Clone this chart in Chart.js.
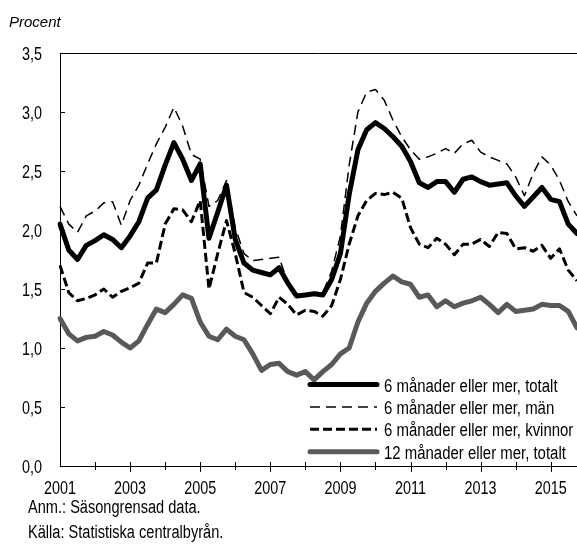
<!DOCTYPE html>
<html>
<head>
<meta charset="utf-8">
<script src="https://cdn.jsdelivr.net/npm/chart.js@4.4.1/dist/chart.umd.min.js"></script>
<style>
  html, body { margin: 0; padding: 0; background: #fff; }
  #wrap { position: relative; width: 577px; height: 544px; overflow: hidden; }
  #chart { position: absolute; left: 0; top: 0; }
  .txt {
    position: absolute; white-space: nowrap; color: #000;
    font-family: 'Liberation Sans', Arial, sans-serif;
    font-size: 18px; line-height: 18px;
    transform: scaleX(0.81); transform-origin: 0 0;
  }
  #unit { left: 9px; top: 14px; font-style: italic; font-size: 15px; line-height: 15px; transform: none; }
</style>
</head>
<body>
<div id="wrap">
  <canvas id="chart" width="577" height="544"></canvas>
  <div class="txt" id="unit">Procent</div>
  <div class="txt" style="left:28px; top:498px;">Anm.: Säsongrensad data.</div>
  <div class="txt" style="left:28px; top:523px;">Källa: Statistiska centralbyrån.</div>
</div>
<script>
// Quarterly data, 2001 K1 - 2015 K4 (percent)
const years = [2001, 2002, 2003, 2004, 2005, 2006, 2007, 2008, 2009, 2010, 2011, 2012, 2013, 2014, 2015];
const quarters = [];
years.forEach(yr => { for (let q = 1; q <= 4; q++) quarters.push(yr + 'K' + q); });

const seriesNames = [
  '6 månader eller mer, totalt',
  '6 månader eller mer, män',
  '6 månader eller mer, kvinnor',
  '12 månader eller mer, totalt'
];

const total6 = [
  2.05, 1.83, 1.75, 1.87, 1.91, 1.96, 1.92, 1.85, 1.95, 2.07,
  2.27, 2.34, 2.55, 2.74, 2.60, 2.42, 2.56, 1.93, 2.15, 2.38,
  1.92, 1.72, 1.66, 1.64, 1.62, 1.68, 1.55, 1.44, 1.45, 1.46,
  1.45, 1.58, 1.80, 2.30, 2.68, 2.85, 2.91, 2.86, 2.79, 2.71,
  2.58, 2.40, 2.36, 2.41, 2.41, 2.32, 2.43, 2.45, 2.41, 2.38,
  2.39, 2.40, 2.29, 2.20, 2.28, 2.36, 2.26, 2.24, 2.05, 1.97
];
const men6 = [
  2.20, 2.05, 1.98, 2.12, 2.16, 2.23, 2.24, 2.04, 2.25, 2.38,
  2.56, 2.73, 2.87, 3.04, 2.88, 2.64, 2.60, 2.20, 2.25, 2.42,
  2.02, 1.80, 1.74, 1.75, 1.76, 1.77, 1.55, 1.45, 1.46, 1.47,
  1.47, 1.65, 1.95, 2.55, 3.00, 3.17, 3.19, 3.10, 2.93, 2.79,
  2.68, 2.60, 2.62, 2.65, 2.69, 2.65, 2.73, 2.76, 2.66, 2.62,
  2.59, 2.56, 2.45, 2.29, 2.48, 2.62, 2.55, 2.42, 2.24, 2.12
];
const women6 = [
  1.70, 1.47, 1.40, 1.42, 1.45, 1.50, 1.43, 1.48, 1.51, 1.55,
  1.72, 1.72, 2.05, 2.18, 2.17, 2.07, 2.25, 1.50, 1.80, 2.08,
  1.80, 1.47, 1.43, 1.36, 1.29, 1.43, 1.37, 1.28, 1.32, 1.31,
  1.27, 1.36, 1.58, 1.88, 2.12, 2.25, 2.31, 2.30, 2.32, 2.27,
  2.02, 1.88, 1.85, 1.93, 1.88, 1.79, 1.88, 1.88, 1.92, 1.86,
  1.98, 1.97, 1.84, 1.85, 1.82, 1.87, 1.76, 1.84, 1.66, 1.57
];
const total12 = [
  1.25, 1.12, 1.06, 1.09, 1.10, 1.14, 1.11, 1.05, 1.00, 1.06,
  1.20, 1.33, 1.30, 1.37, 1.45, 1.42, 1.22, 1.10, 1.07, 1.16,
  1.10, 1.07, 0.95, 0.81, 0.86, 0.87, 0.80, 0.77, 0.80, 0.73,
  0.80, 0.86, 0.95, 1.00, 1.22, 1.38, 1.48, 1.55, 1.61, 1.56,
  1.54, 1.43, 1.45, 1.35, 1.40, 1.35, 1.38, 1.40, 1.43, 1.37,
  1.30, 1.37, 1.31, 1.32, 1.33, 1.37, 1.36, 1.36, 1.31, 1.17
];

const yTicks = [0, 0.5, 1, 1.5, 2, 2.5, 3, 3.5];

// no narrow font is installed, so Liberation Sans is squeezed horizontally
const FONT = "18px 'Liberation Sans', Arial, sans-serif";
const SQUEEZE = 0.8;

const narrowText = (ctx, text, x, y, align, sx) => {
  ctx.save();
  ctx.translate(x, y);
  ctx.scale(sx, 1);
  ctx.textAlign = align;
  ctx.fillText(text, 0, 0);
  ctx.restore();
};

// frame line, ticks, tick labels and the in-plot legend
const refDecor = {
  id: 'refDecor',
  afterDraw(chart, args, opts) {
    const { ctx, chartArea: a, scales: { x, y } } = chart;
    ctx.save();
    ctx.strokeStyle = '#000';
    ctx.lineWidth = 1;
    ctx.beginPath();
    ctx.moveTo(a.left, a.top + 0.5);
    ctx.lineTo(a.right, a.top + 0.5);
    yTicks.forEach(v => {
      const py = Math.round(y.getPixelForValue(v)) + 0.5;
      ctx.moveTo(a.left, py);
      ctx.lineTo(a.left + 5, py);
    });
    quarters.forEach((q, i) => {
      if (i === 0 || !q.endsWith('K1')) return;
      const px = Math.round(x.getPixelForValue(i)) + 0.5;
      const labelled = parseInt(q, 10) % 2 === 1;
      ctx.moveTo(px, a.bottom - 4);
      ctx.lineTo(px, a.bottom + (labelled ? 6 : 4));
    });
    ctx.stroke();

    ctx.font = FONT;
    ctx.fillStyle = '#000';
    ctx.textBaseline = 'alphabetic';

    // axis labels
    yTicks.forEach(v => {
      const py = y.getPixelForValue(v);
      narrowText(ctx, v.toFixed(1).replace('.', ','), a.left - 18, py + 6.5, 'right', SQUEEZE);
    });
    quarters.forEach((q, i) => {
      if (!q.endsWith('K1') || parseInt(q, 10) % 2 !== 1) return;
      narrowText(ctx, q.slice(0, 4), x.getPixelForValue(i), a.bottom + 28, 'center', SQUEEZE);
    });

    // legend
    chart.data.datasets.forEach((ds, i) => {
      const ly = opts.y0 + i * opts.dy;
      ctx.save();
      ctx.strokeStyle = ds.borderColor;
      ctx.lineWidth = ds.borderWidth;
      ctx.setLineDash(ds.borderDash || []);
      ctx.lineCap = ds.borderCapStyle || 'butt';
      ctx.beginPath();
      ctx.moveTo(opts.x1, ly);
      ctx.lineTo(opts.x2, ly);
      ctx.stroke();
      ctx.restore();
      narrowText(ctx, ds.label, opts.textX, ly + 7, 'left', 0.83);
    });
    ctx.restore();
  }
};

const line = (label, values, color, width, dash, cap, order) => ({
  label,
  data: values,
  borderColor: color,
  borderWidth: width,
  borderDash: dash,
  borderCapStyle: cap,
  borderJoinStyle: 'round',
  pointRadius: 0,
  tension: 0,
  fill: false,
  order
});

new Chart(document.getElementById('chart'), {
  type: 'line',
  data: {
    labels: quarters,
    datasets: [
      line(seriesNames[0], total6, '#000000', 5, [], 'round', 3),
      line(seriesNames[1], men6, '#000000', 1.5, [10, 6], 'butt', 2),
      line(seriesNames[2], women6, '#000000', 3, [9, 4], 'butt', 1),
      line(seriesNames[3], total12, '#595959', 5, [], 'round', 0)
    ]
  },
  options: {
    responsive: false,
    animation: false,
    devicePixelRatio: 1,
    layout: { padding: { top: 53, right: 0, bottom: 0, left: 0 } },
    plugins: {
      legend: { display: false },
      tooltip: { enabled: false },
      refDecor: { x1: 310, x2: 377, textX: 384, y0: 384.5, dy: 22.4 }
    },
    scales: {
      x: {
        type: 'category',
        offset: false,
        grid: { display: false, drawTicks: false },
        border: { display: true, color: '#000', width: 1 },
        ticks: { display: false, autoSkip: false },
        afterFit: s => { s.height = 78; }
      },
      y: {
        min: 0,
        max: 3.5,
        grid: { display: false, drawTicks: false },
        border: { display: true, color: '#000', width: 1 },
        ticks: { display: false, stepSize: 0.5 },
        afterFit: s => { s.width = 60; }
      }
    }
  },
  plugins: [refDecor]
});
</script>
</body>
</html>
